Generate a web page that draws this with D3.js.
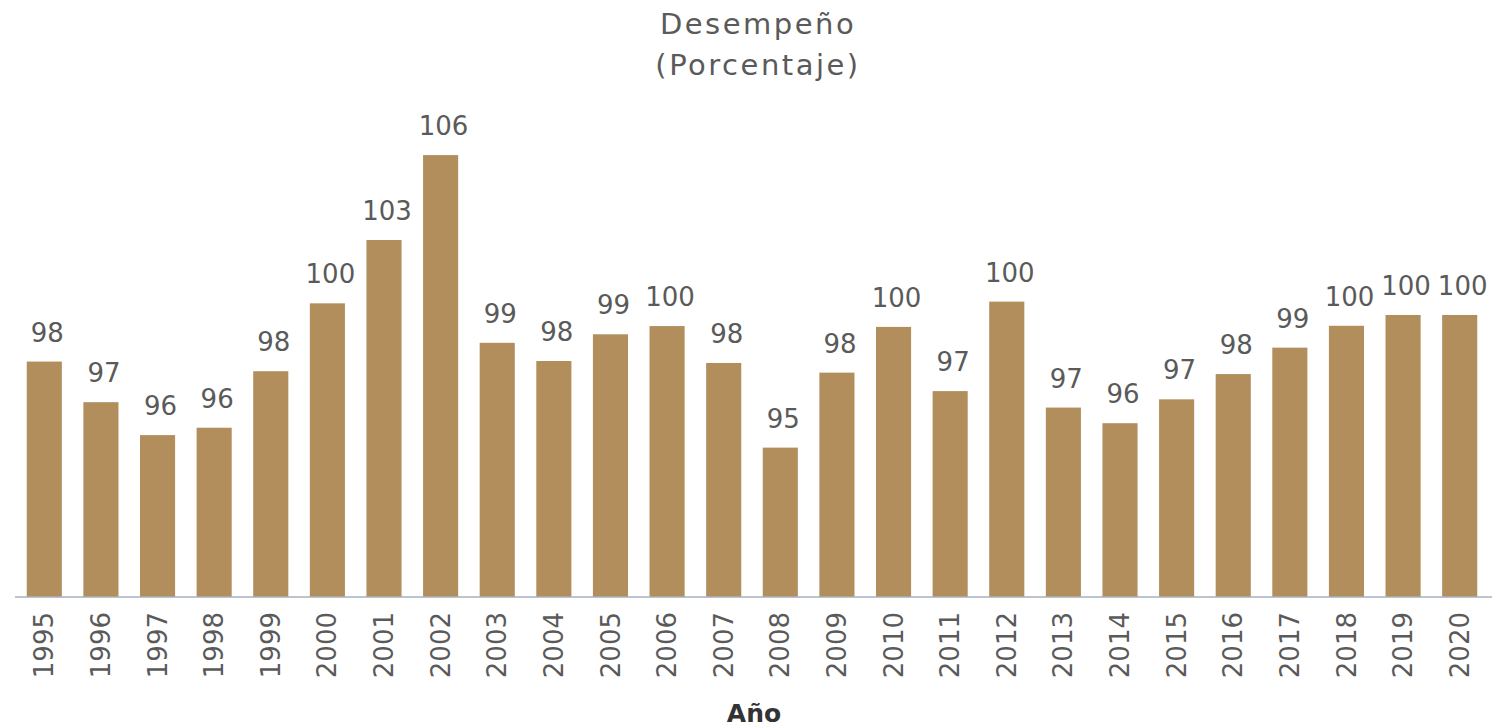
<!DOCTYPE html>
<html>
<head>
<meta charset="utf-8">
<script src="https://cdn.jsdelivr.net/npm/d3@7"></script>
<style>
  body { margin: 0; background: #fff; }
  svg { display: block; }
</style>
</head>
<body>
<svg id="chart"></svg>
<script>
// ==========
// DATA
// ==========
var years = ["1995", "1996", "1997", "1998", "1999", "2000", "2001", "2002", "2003",
  "2004", "2005", "2006", "2007", "2008", "2009", "2010", "2011", "2012", "2013",
  "2014", "2015", "2016", "2017", "2018", "2019", "2020"];

var desempeno = [98.29, 96.86, 95.70, 95.96, 97.95, 100.34, 102.57, 105.56, 98.95,
  98.31, 99.25, 99.54, 98.24, 95.26, 97.90, 99.51, 97.25, 100.40, 96.67,
  96.12, 96.96, 97.85, 98.78, 99.55, 99.93, 99.93];

var titleLines = ["Desempeño", "(Porcentaje)"];
var xTitle = "Año";

// ==========
// MAIN
// ==========
var width = 1499,
  height = 728;

var svg = d3.select("#chart")
  .attr("width", width)
  .attr("height", height);

var font = "'DejaVu Sans', sans-serif";
var barColor = "#b18e5c";
var textColor = "#5a5a5a";

var x = d3.scaleBand()
  .domain(years)
  .range([16, 1488])
  .paddingInner(0.38)
  .paddingOuter(0.19);

var y = d3.scaleLinear()
  .domain([90, 107])
  .range([597, 597 - 17 * 28.4]);

var data = years.map(function (d, i) { return { year: d, value: desempeno[i] }; });

// title
svg.append("g")
  .selectAll("text")
  .data(titleLines)
  .enter().append("text")
  .attr("x", 758)
  .attr("y", function (d, i) { return 34 + i * 41; })
  .attr("text-anchor", "middle")
  .attr("font-family", font)
  .attr("font-size", 29)
  .attr("letter-spacing", 2.5)
  .attr("fill", textColor)
  .text(function (d) { return d; });

// bars
svg.append("g")
  .selectAll("rect")
  .data(data)
  .enter().append("rect")
  .attr("x", function (d) { return x(d.year); })
  .attr("y", function (d) { return y(d.value); })
  .attr("width", x.bandwidth())
  .attr("height", function (d) { return y(90) - y(d.value); })
  .attr("fill", barColor);

// value labels
svg.append("g")
  .selectAll("text")
  .data(data)
  .enter().append("text")
  .attr("x", function (d) { return x(d.year) + x.bandwidth() / 2 + 3; })
  .attr("y", function (d) { return y(d.value) - 20; })
  .attr("text-anchor", "middle")
  .attr("font-family", font)
  .attr("font-size", 26)
  .attr("fill", textColor)
  .text(function (d) { return d3.format(".0f")(d.value); });

// x axis
var xAxis = svg.append("g")
  .attr("transform", "translate(0," + y(90) + ")")
  .call(d3.axisBottom(x).tickSize(0).tickSizeOuter(0));

xAxis.select(".domain")
  .attr("d", "M15,0H1492")
  .attr("stroke", "#a9b0bd")
  .attr("stroke-width", 1.5);

xAxis.selectAll(".tick text")
  .attr("transform", "rotate(-90)")
  .attr("x", -15)
  .attr("y", 0)
  .attr("dy", "0.35em")
  .attr("text-anchor", "end")
  .attr("font-family", font)
  .attr("font-size", 26)
  .attr("fill", textColor);

// axis title
svg.append("text")
  .attr("x", 754)
  .attr("y", 722)
  .attr("text-anchor", "middle")
  .attr("font-family", font)
  .attr("font-size", 25)
  .attr("font-weight", "bold")
  .attr("fill", "#333")
  .text(xTitle);
</script>
</body>
</html>
